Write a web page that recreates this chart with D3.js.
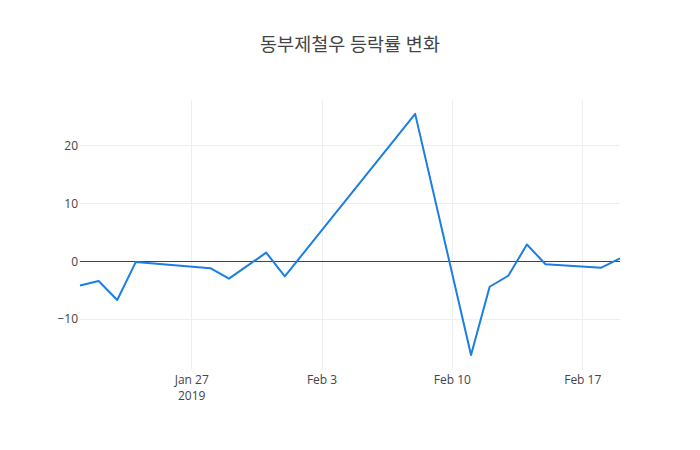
<!DOCTYPE html>
<html>
<head>
<meta charset="utf-8">
<script src="https://cdn.jsdelivr.net/npm/d3@7"></script>
<style>
  html, body { margin: 0; padding: 0; background: #fff; }
  svg { display: block; }
</style>
</head>
<body>
<svg id="chart" width="700" height="450"></svg>
<script>
const title = "동부제철우 등락률 변화";
const dates = ["2019-01-21","2019-01-22","2019-01-23","2019-01-24","2019-01-28","2019-01-29",
  "2019-01-31","2019-02-01","2019-02-08","2019-02-11","2019-02-12","2019-02-13",
  "2019-02-14","2019-02-15","2019-02-18","2019-02-19"];
const values = [-4.2, -3.4, -6.7, -0.1, -1.2, -3.0, 1.5, -2.6, 25.5, -16.2, -4.4, -2.5, 2.9, -0.5, -1.1, 0.5];
const xTickDates = ["2019-01-27","2019-02-03","2019-02-10","2019-02-17"];
const xTickLabels = [["Jan 27","2019"],["Feb 3"],["Feb 10"],["Feb 17"]];
const yTicks = [-10, 0, 10, 20];
const yDomain = [-18.8, 27.9];

const parse = d3.timeParse("%Y-%m-%d");
const data = dates.map((d, i) => ({ date: parse(d), value: values[i] }));

const W = 700, H = 450;
const m = { l: 80, r: 80, t: 100, b: 80 };
const svg = d3.select("#chart");
const font = "'Open Sans', 'Noto Sans CJK KR', sans-serif";

const x = d3.scaleTime()
  .domain(d3.extent(data, d => d.date))
  .range([m.l, W - m.r]);
const y = d3.scaleLinear()
  .domain(yDomain)
  .range([H - m.b, m.t]);

// grid lines
const g = svg.append("g").attr("shape-rendering", "crispEdges");
g.selectAll("line.xg").data(xTickDates.map(parse)).enter().append("line")
  .attr("x1", d => x(d)).attr("x2", d => x(d))
  .attr("y1", m.t).attr("y2", H - m.b)
  .attr("stroke", "#eee").attr("stroke-width", 1);
g.selectAll("line.yg").data(yTicks.filter(v => v !== 0)).enter().append("line")
  .attr("x1", m.l).attr("x2", W - m.r)
  .attr("y1", d => y(d)).attr("y2", d => y(d))
  .attr("stroke", "#eee").attr("stroke-width", 1);

// zero line
svg.append("line")
  .attr("shape-rendering", "crispEdges")
  .attr("x1", m.l).attr("x2", W - m.r)
  .attr("y1", y(0)).attr("y2", y(0))
  .attr("stroke", "#444").attr("stroke-width", 1);

// y tick labels
svg.selectAll("text.yt").data(yTicks).enter().append("text")
  .attr("x", m.l - 2).attr("y", d => y(d))
  .attr("dy", "0.35em")
  .attr("text-anchor", "end")
  .attr("font-family", font).attr("font-size", 12).attr("fill", "#444")
  .text(d => d < 0 ? "\u2212" + Math.abs(d) : d);

// x tick labels
const xt = svg.selectAll("text.xt").data(xTickDates.map((d, i) => ({ d: parse(d), lines: xTickLabels[i] })))
  .enter().append("text")
  .attr("x", d => x(d.d)).attr("y", H - m.b + 14)
  .attr("text-anchor", "middle")
  .attr("font-family", font).attr("font-size", 12).attr("fill", "#444");
xt.each(function(d) {
  const t = d3.select(this);
  d.lines.forEach((ln, i) => {
    t.append("tspan").attr("x", x(d.d)).attr("dy", i === 0 ? 0 : 15.5).text(ln);
  });
});

// line
const line = d3.line().x(d => x(d.date)).y(d => y(d.value));
svg.append("path").datum(data)
  .attr("d", line)
  .attr("fill", "none")
  .attr("stroke", "#1a7ee4")
  .attr("stroke-width", 2)
  .attr("stroke-linejoin", "round");

// title
svg.append("text")
  .attr("x", W / 2).attr("y", 51)
  .attr("text-anchor", "middle")
  .attr("font-family", font).attr("font-size", 18.5).attr("fill", "#444")
  .text(title);
</script>
</body>
</html>
